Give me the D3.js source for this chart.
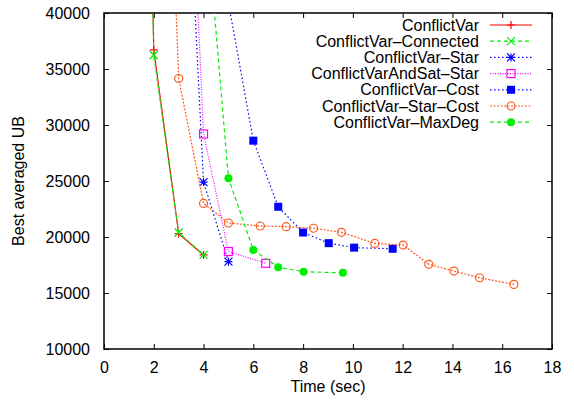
<!DOCTYPE html>
<html>
<head>
<meta charset="utf-8">
<script src="https://d3js.org/d3.v7.min.js"></script>
<title>Best averaged UB</title>
</head>
<style>
body { margin: 0; background: #fff; }
svg { display: block; font-family: "Liberation Sans", Arial, sans-serif; }
</style>
<body>
<svg width="574" height="403"></svg>
<script>

// series: time (sec) and best averaged UB; first point of each lies above the plot top
let names = ["ConflictVar", "ConflictVar–Connected", "ConflictVar–Star", "ConflictVarAndSat–Star",
             "ConflictVar–Cost", "ConflictVar–Star–Cost", "ConflictVar–MaxDeg"];

let timeCV        = [1.8, 2, 3, 4];
let ubCV          = [58700, 36700, 20300, 18400];
let timeConnected = [1.8, 2, 3, 4];
let ubConnected   = [58000, 36250, 20400, 18400];
let timeStar      = [3.4, 4, 5];
let ubStar        = [51500, 24900, 17800];
let timeSatStar   = [3.5, 4, 5, 6.5];
let ubSatStar     = [53700, 29200, 18700, 17650];
let timeCost      = [5, 6, 7, 8, 9.03, 10.05, 11.6];
let ubCost        = [40900, 28600, 22700, 20400, 19450, 19050, 18950];
let timeStarCost  = [2.5, 3, 4, 5, 6.28, 7.32, 8.42, 9.54, 10.88, 12.02, 13.05, 14.06, 15.09, 16.47];
let ubStarCost    = [63600, 34150, 23000, 21250, 20980, 20920, 20780, 20420, 19430, 19280, 17560, 16960, 16360, 15770];
let timeMaxDeg    = [4, 5, 6, 7, 8.02, 9.6];
let ubMaxDeg      = [51500, 25250, 18850, 17300, 16900, 16800];

let xTicks = [0, 2, 4, 6, 8, 10, 12, 14, 16, 18];
let yTicks = [10000, 15000, 20000, 25000, 30000, 35000, 40000];

let styles = [
  {color: "#ff0000", dash: null,       marker: "plus"},
  {color: "#00ee00", dash: "4,3",      marker: "cross"},
  {color: "#0000ff", dash: "1.5,2.5",  marker: "star"},
  {color: "#ff00ff", dash: "1,1.5",    marker: "square"},
  {color: "#0000ff", dash: "1.5,2.5",  marker: "fsquare"},
  {color: "#ff5a1e", dash: "2,1.5",    marker: "circle"},
  {color: "#00ee00", dash: "4,3",      marker: "fcircle"}
];

let times = [timeCV, timeConnected, timeStar, timeSatStar, timeCost, timeStarCost, timeMaxDeg];
let ubs   = [ubCV, ubConnected, ubStar, ubSatStar, ubCost, ubStarCost, ubMaxDeg];

let pLeft = 104, pRight = 552, pTop = 13, pBottom = 349;
let x = d3.scaleLinear().domain([0, 18]).range([pLeft, pRight]);
let y = d3.scaleLinear().domain([10000, 40000]).range([pBottom, pTop]);

let svg = d3.select("svg");

svg.append("clipPath").attr("id", "plotclip")
  .append("rect").attr("x", pLeft).attr("y", pTop)
  .attr("width", pRight - pLeft).attr("height", pBottom - pTop);

// axes with inward ticks, mirrored on the opposite sides
let axisB = svg.append("g").attr("transform", "translate(0," + pBottom + ")")
  .call(d3.axisBottom(x).tickValues(xTicks).tickSize(-5).tickPadding(13));
let axisT = svg.append("g").attr("transform", "translate(0," + pTop + ")")
  .call(d3.axisTop(x).tickValues(xTicks).tickSize(-5).tickFormat(""));
let axisL = svg.append("g").attr("transform", "translate(" + pLeft + ",0)")
  .call(d3.axisLeft(y).tickValues(yTicks).tickSize(-5).tickPadding(14).tickFormat(d3.format("d")));
let axisR = svg.append("g").attr("transform", "translate(" + pRight + ",0)")
  .call(d3.axisRight(y).tickValues(yTicks).tickSize(-5).tickFormat(""));

[axisB, axisT, axisL, axisR].forEach(function(a) {
  a.select(".domain").remove();
  a.selectAll("line").attr("stroke", "#000");
  a.selectAll("text").attr("font-size", 16).attr("fill", "#000")
    .attr("font-family", "Liberation Sans, Arial, sans-serif");
});

svg.append("rect").attr("x", pLeft).attr("y", pTop)
  .attr("width", pRight - pLeft).attr("height", pBottom - pTop)
  .attr("fill", "none").attr("stroke", "#000").attr("stroke-width", 1.5);

svg.append("text").attr("x", (pLeft + pRight) / 2).attr("y", 392)
  .attr("text-anchor", "middle").attr("font-size", 16).text("Time (sec)");
svg.append("text").attr("transform", "translate(24," + ((pTop + pBottom) / 2) + ") rotate(-90)")
  .attr("text-anchor", "middle").attr("font-size", 16).text("Best averaged UB");

function drawMarker(g, type, cx, cy, color) {
  let s = 4;
  if (type == "plus") {
    g.append("path").attr("d", "M" + (cx - s) + "," + cy + "H" + (cx + s) + "M" + cx + "," + (cy - s) + "V" + (cy + s))
      .attr("stroke", color).attr("stroke-width", 1.2);
  } else if (type == "cross") {
    g.append("path").attr("d", "M" + (cx - s) + "," + (cy - s) + "L" + (cx + s) + "," + (cy + s) + "M" + (cx - s) + "," + (cy + s) + "L" + (cx + s) + "," + (cy - s))
      .attr("stroke", color).attr("stroke-width", 1.2);
  } else if (type == "star") {
    g.append("path").attr("d", "M" + (cx - s) + "," + cy + "H" + (cx + s) + "M" + cx + "," + (cy - s) + "V" + (cy + s) +
        "M" + (cx - s) + "," + (cy - s) + "L" + (cx + s) + "," + (cy + s) + "M" + (cx - s) + "," + (cy + s) + "L" + (cx + s) + "," + (cy - s))
      .attr("stroke", color).attr("stroke-width", 1.2);
  } else if (type == "square") {
    g.append("rect").attr("x", cx - s).attr("y", cy - s).attr("width", 2 * s).attr("height", 2 * s)
      .attr("fill", "none").attr("stroke", color).attr("stroke-width", 1.2);
  } else if (type == "fsquare") {
    g.append("rect").attr("x", cx - s).attr("y", cy - s).attr("width", 2 * s).attr("height", 2 * s)
      .attr("fill", color);
  } else if (type == "circle") {
    g.append("circle").attr("cx", cx).attr("cy", cy).attr("r", s)
      .attr("fill", "none").attr("stroke", color).attr("stroke-width", 1.2);
  } else if (type == "fcircle") {
    g.append("circle").attr("cx", cx).attr("cy", cy).attr("r", s).attr("fill", color);
  }
}

let line = d3.line().x(d => x(d[0])).y(d => y(d[1]));
let plot = svg.append("g").attr("clip-path", "url(#plotclip)");

for (let i = 0; i < names.length; i++) {
  let pts = times[i].map((t, k) => [t, ubs[i][k]]);
  let st = styles[i];
  plot.append("path").attr("d", line(pts)).attr("fill", "none")
    .attr("stroke", st.color).attr("stroke-width", 1.2)
    .attr("stroke-dasharray", st.dash);
  for (let p of pts) {
    if (p[1] <= 40000) drawMarker(plot, st.marker, x(p[0]), y(p[1]), st.color);
  }
}

// legend
let leg = svg.append("g");
for (let i = 0; i < names.length; i++) {
  let ly = 25 + i * 16.2;
  let st = styles[i];
  leg.append("text").attr("x", 479).attr("y", ly + 5.5).attr("text-anchor", "end")
    .attr("font-size", 16).text(names[i]);
  leg.append("line").attr("x1", 490).attr("x2", 532).attr("y1", ly).attr("y2", ly)
    .attr("stroke", st.color).attr("stroke-width", 1.2).attr("stroke-dasharray", st.dash);
  drawMarker(leg, st.marker, 511, ly, st.color);
}

</script>
</body>
</html>
